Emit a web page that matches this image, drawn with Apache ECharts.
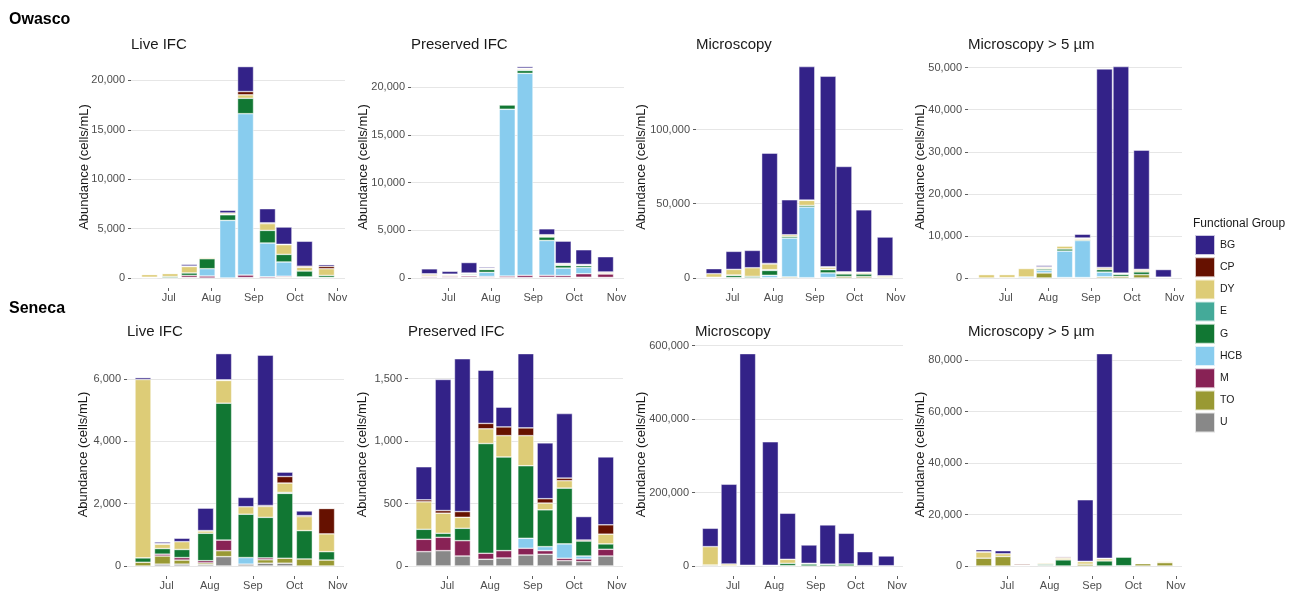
<!DOCTYPE html>
<html>
<head>
<meta charset="utf-8">
<script src="https://cdn.jsdelivr.net/npm/echarts@6/dist/echarts.min.js"></script>
<style>
  html, body { margin: 0; padding: 0; background: #fff; }
  #chart { width: 1302px; height: 592px; }
</style>
</head>
<body>
<div id="chart"></div>
<script>
// ---- Sampling dates -------------------------------------------------------
const owascoDates = ['2022-06-17','2022-07-02','2022-07-16','2022-07-29','2022-08-13','2022-08-26','2022-09-11','2022-09-23','2022-10-08','2022-10-24'];
const senecaDates = ['2022-06-14','2022-06-28','2022-07-12','2022-07-29','2022-08-11','2022-08-27','2022-09-10','2022-09-24','2022-10-08','2022-10-24'];

// ---- Functional groups ----------------------------------------------------
const groups = ['BG','CP','DY','E','G','HCB','M','TO','U'];
const groupColors = ['#332288','#661100','#DDCC77','#44AA99','#117733','#88CCEE','#882255','#999933','#888888'];
const monthNames = ['Jan','Feb','Mar','Apr','May','Jun','Jul','Aug','Sep','Oct','Nov','Dec'];

// ---- Owasco, Live IFC (cells/mL) -----------------------------------------
const owLive_BG  = [20, 50, 170, 50, 270, 2530, 1435, 1750, 2530, 170];
const owLive_CP  = [0, 0, 50, 0, 0, 330, 80, 40, 100, 240];
const owLive_DY  = [270, 300, 650, 120, 130, 350, 680, 980, 380, 680];
const owLive_E   = [0, 0, 0, 0, 50, 0, 0, 0, 0, 0];
const owLive_G   = [50, 120, 250, 1010, 570, 1560, 1280, 770, 600, 200];
const owLive_HCB = [0, 0, 0, 740, 5830, 16330, 3420, 1440, 0, 0];
const owLive_M   = [0, 0, 200, 200, 0, 250, 120, 100, 50, 0];
const owLive_TO  = [30, 30, 0, 0, 0, 0, 0, 80, 60, 60];
const owLive_U   = [0, 0, 60, 0, 0, 50, 0, 0, 0, 0];

// ---- Owasco, Preserved IFC -------------------------------------------------
const owPres_BG  = [520, 300, 1100, 120, 50, 170, 620, 2330, 1540, 1600];
const owPres_CP  = [80, 60, 40, 20, 30, 60, 50, 40, 20, 80];
const owPres_DY  = [150, 100, 40, 80, 60, 100, 130, 100, 60, 100];
const owPres_E   = [0, 0, 60, 50, 60, 80, 50, 60, 40, 0];
const owPres_G   = [60, 60, 100, 300, 450, 300, 370, 290, 200, 20];
const owPres_HCB = [0, 0, 60, 430, 17470, 21150, 3650, 780, 650, 0];
const owPres_M   = [100, 120, 140, 100, 150, 230, 200, 200, 370, 370];
const owPres_TO  = [0, 0, 0, 0, 0, 0, 0, 0, 0, 0];
const owPres_U   = [50, 60, 80, 60, 50, 50, 80, 60, 80, 60];

// ---- Owasco, Microscopy ---------------------------------------------------
const owMic_BG  = [3380, 12140, 11700, 74280, 23600, 89900, 128300, 71000, 42000, 26080];
const owMic_CP  = [0, 0, 0, 300, 0, 200, 300, 400, 400, 200];
const owMic_DY  = [2400, 3800, 5800, 3900, 1100, 3400, 1300, 700, 800, 1000];
const owMic_E   = [0, 200, 0, 500, 0, 0, 300, 200, 0, 0];
const owMic_G   = [300, 1500, 900, 3300, 1100, 1100, 2240, 1800, 1700, 0];
const owMic_HCB = [0, 0, 0, 1600, 26200, 47560, 3100, 0, 0, 0];
const owMic_M   = [0, 0, 0, 0, 0, 0, 0, 0, 0, 0];
const owMic_TO  = [200, 300, 200, 0, 700, 0, 300, 1000, 1000, 300];
const owMic_U   = [0, 0, 0, 200, 0, 200, 0, 0, 0, 0];

// ---- Owasco, Microscopy > 5 µm ---------------------------------------------
const owMic5_BG  = [0, 0, 0, 330, 0, 900, 47200, 49100, 28340, 1810];
const owMic5_CP  = [0, 0, 0, 100, 0, 100, 100, 150, 200, 150];
const owMic5_DY  = [800, 700, 2000, 300, 670, 300, 400, 100, 400, 0];
const owMic5_E   = [0, 0, 0, 100, 0, 0, 0, 0, 0, 0];
const owMic5_G   = [0, 100, 0, 350, 500, 200, 600, 500, 650, 0];
const owMic5_HCB = [0, 0, 250, 600, 6300, 8800, 1100, 0, 0, 0];
const owMic5_M   = [0, 0, 0, 0, 0, 0, 0, 0, 0, 50];
const owMic5_TO  = [0, 0, 0, 1200, 100, 100, 300, 400, 800, 0];
const owMic5_U   = [0, 0, 0, 0, 0, 0, 0, 0, 0, 0];

// ---- Seneca, Live IFC ------------------------------------------------------
const seLive_BG  = [60, 50, 110, 720, 840, 300, 4820, 140, 150, 20];
const seLive_CP  = [0, 20, 0, 10, 20, 0, 30, 210, 30, 815];
const seLive_DY  = [5720, 140, 250, 75, 730, 240, 350, 300, 450, 570];
const seLive_E   = [0, 0, 0, 0, 0, 0, 0, 30, 0, 0];
const seLive_G   = [140, 180, 260, 880, 4390, 1390, 1300, 2080, 910, 270];
const seLive_HCB = [0, 0, 0, 0, 0, 210, 0, 0, 0, 0];
const seLive_M   = [0, 60, 80, 70, 340, 0, 60, 0, 0, 0];
const seLive_TO  = [120, 260, 130, 50, 190, 0, 110, 160, 225, 190];
const seLive_U   = [0, 60, 60, 50, 300, 60, 90, 90, 0, 0];

// ---- Seneca, Preserved IFC -------------------------------------------------
const sePres_BG  = [265, 1050, 1224, 426, 158, 595, 447, 517, 188, 544];
const sePres_CP  = [16, 21, 46, 43, 70, 62, 35, 21, 8, 75];
const sePres_DY  = [220, 161, 88, 118, 171, 241, 54, 59, 0, 78];
const sePres_E   = [0, 0, 0, 0, 0, 0, 0, 0, 0, 0];
const sePres_G   = [80, 32, 99, 879, 750, 581, 295, 447, 120, 43];
const sePres_HCB = [0, 0, 0, 0, 0, 80, 32, 115, 24, 0];
const sePres_M   = [99, 107, 123, 48, 59, 54, 29, 19, 21, 54];
const sePres_TO  = [0, 0, 0, 0, 0, 0, 0, 0, 0, 0];
const sePres_U   = [115, 123, 80, 54, 64, 88, 94, 43, 35, 80];

// ---- Seneca, Microscopy ----------------------------------------------------
const seMic_BG  = [50000, 217000, 576000, 336000, 125400, 50000, 106800, 83650, 38000, 26600];
const seMic_CP  = [0, 0, 0, 0, 0, 0, 0, 0, 0, 0];
const seMic_DY  = [50000, 5000, 2000, 1000, 10900, 1800, 500, 0, 0, 0];
const seMic_E   = [0, 0, 0, 1000, 0, 0, 0, 0, 0, 0];
const seMic_G   = [0, 0, 0, 0, 6300, 5450, 4500, 5450, 1000, 700];
const seMic_HCB = [0, 0, 0, 0, 0, 0, 0, 0, 0, 0];
const seMic_M   = [0, 0, 0, 0, 0, 0, 0, 0, 0, 0];
const seMic_TO  = [2700, 500, 0, 0, 1000, 0, 0, 0, 0, 0];
const seMic_U   = [0, 0, 0, 0, 0, 0, 0, 0, 0, 0];

// ---- Seneca, Microscopy > 5 µm ---------------------------------------------
const seMic5_BG  = [800, 1190, 0, 0, 260, 23940, 79520, 0, 0, 0];
const seMic5_CP  = [100, 0, 400, 0, 400, 100, 200, 0, 0, 0];
const seMic5_DY  = [2400, 1050, 100, 400, 660, 1000, 800, 0, 160, 420];
const seMic5_E   = [0, 0, 0, 0, 0, 0, 0, 0, 0, 0];
const seMic5_G   = [0, 0, 0, 460, 2380, 0, 1980, 3330, 0, 0];
const seMic5_HCB = [0, 0, 0, 0, 0, 0, 0, 0, 0, 0];
const seMic5_M   = [0, 0, 0, 0, 0, 0, 0, 0, 0, 0];
const seMic5_TO  = [3040, 3700, 160, 200, 0, 700, 0, 100, 900, 1300];
const seMic5_U   = [0, 0, 0, 0, 0, 0, 0, 0, 0, 0];

// ---- Y tick labels per panel -----------------------------------------------
const ticksOwLive = [0, 5000, 10000, 15000, 20000];
const ticksOwPres = [0, 5000, 10000, 15000, 20000];
const ticksOwMic  = [0, 50000, 100000];
const ticksOwMic5 = [0, 10000, 20000, 30000, 40000, 50000];
const ticksSeLive = [0, 2000, 4000, 6000];
const ticksSePres = [0, 500, 1000, 1500];
const ticksSeMic  = [0, 200000, 400000, 600000];
const ticksSeMic5 = [0, 20000, 40000, 60000, 80000];

// x-axis month ticks (first of Jul..Nov)
const monthStarts = ['2022-07-01', '2022-08-01', '2022-09-01', '2022-10-01', '2022-11-01'];

const DAY = 86400000;
const toTime = s => { const [y, m, d] = s.split('-').map(Number); return Date.UTC(y, m - 1, d); };
const monthOf = v => monthNames[new Date(v + DAY / 2).getUTCMonth()];
const monthTicks = monthStarts.map(toTime);

// ---- Panel table --------------------------------------------------------------
const panels = [
  { title: 'Live IFC', dates: owascoDates, ticks: ticksOwLive,
    vals: [owLive_BG, owLive_CP, owLive_DY, owLive_E, owLive_G, owLive_HCB, owLive_M, owLive_TO, owLive_U] },
  { title: 'Preserved IFC', dates: owascoDates, ticks: ticksOwPres,
    vals: [owPres_BG, owPres_CP, owPres_DY, owPres_E, owPres_G, owPres_HCB, owPres_M, owPres_TO, owPres_U] },
  { title: 'Microscopy', dates: owascoDates, ticks: ticksOwMic,
    vals: [owMic_BG, owMic_CP, owMic_DY, owMic_E, owMic_G, owMic_HCB, owMic_M, owMic_TO, owMic_U] },
  { title: 'Microscopy > 5 µm', dates: owascoDates, ticks: ticksOwMic5,
    vals: [owMic5_BG, owMic5_CP, owMic5_DY, owMic5_E, owMic5_G, owMic5_HCB, owMic5_M, owMic5_TO, owMic5_U] },
  { title: 'Live IFC', dates: senecaDates, ticks: ticksSeLive,
    vals: [seLive_BG, seLive_CP, seLive_DY, seLive_E, seLive_G, seLive_HCB, seLive_M, seLive_TO, seLive_U] },
  { title: 'Preserved IFC', dates: senecaDates, ticks: ticksSePres,
    vals: [sePres_BG, sePres_CP, sePres_DY, sePres_E, sePres_G, sePres_HCB, sePres_M, sePres_TO, sePres_U] },
  { title: 'Microscopy', dates: senecaDates, ticks: ticksSeMic,
    vals: [seMic_BG, seMic_CP, seMic_DY, seMic_E, seMic_G, seMic_HCB, seMic_M, seMic_TO, seMic_U] },
  { title: 'Microscopy > 5 µm', dates: senecaDates, ticks: ticksSeMic5,
    vals: [seMic5_BG, seMic5_CP, seMic5_DY, seMic5_E, seMic5_G, seMic5_HCB, seMic5_M, seMic5_TO, seMic5_U] }
];

// Plot-area boxes: [left, right, top, zero line y]
const boxes = [
  [131, 345, 56, 278], [411, 624, 56, 278], [696, 903, 56, 278], [968, 1182, 56, 278],
  [127, 344, 343, 566], [408, 623, 343, 566], [695, 903, 343, 566], [968, 1182, 343, 566]
];
const xRange = [['2022-06-04', '2022-11-06'], ['2022-06-03', '2022-11-05']];
const nameGaps = [40.5, 41.5, 47.8, 41.5, 37.5, 39, 46.8, 41.5];

const FONT = "'Liberation Sans', Arial, Helvetica, sans-serif";
const fmt = v => Math.round(v).toLocaleString('en-US');

const grid = [], xAxis = [], yAxis = [], series = [];
const titles = [
  { text: 'Owasco', left: 9, top: 12, padding: 0, textStyle: { fontFamily: FONT, fontSize: 16, fontWeight: 'bold', color: '#000' } },
  { text: 'Seneca', left: 9, top: 301, padding: 0, textStyle: { fontFamily: FONT, fontSize: 16, fontWeight: 'bold', color: '#000' } },
  { text: 'Functional Group', left: 1193, top: 218, padding: 0, textStyle: { fontFamily: FONT, fontSize: 12, fontWeight: 'normal', color: '#1a1a1a' } }
];

panels.forEach((p, i) => {
  const [L, R, T, Z] = boxes[i];
  const row = i < 4 ? 0 : 1;
  const xMin = toTime(xRange[row][0]), xMax = toTime(xRange[row][1]);
  const nDays = Math.round((xMax - xMin) / DAY) + 1;
  const days = Array.from({ length: nDays }, (_, k) => xMin + k * DAY);

  grid.push({ left: L, top: T, width: R - L, height: Z - T, containLabel: false });
  titles.push({ text: p.title, left: L, top: row ? 324 : 37, padding: 0,
    textStyle: { fontFamily: FONT, fontSize: 15, fontWeight: 'normal', color: '#1a1a1a' } });

  // stacked totals set the axis top (5% headroom)
  const totals = p.dates.map((d, k) => p.vals.reduce((s, arr) => s + arr[k], 0));
  const yMax = Math.max(...totals) * 1.05;

  // one category per calendar day carries the bars
  xAxis.push({ type: 'category', gridIndex: i, data: days, boundaryGap: true, show: false });
  // companion axis (same span, in ms) draws month ticks and labels
  xAxis.push({
    type: 'value', gridIndex: i, min: xMin - DAY / 2, max: xMax + DAY / 2, position: 'bottom',
    offset: 10,
    axisLine: { show: false },
    axisTick: { show: true, length: 3, lineStyle: { color: '#333', width: 0.8 }, customValues: monthTicks },
    axisLabel: { customValues: monthTicks, margin: 4, fontFamily: FONT, fontSize: 11, color: '#4d4d4d',
      formatter: v => monthOf(v) },
    splitLine: { show: false }
  });
  yAxis.push({
    type: 'value', gridIndex: i, min: 0, max: yMax,
    name: 'Abundance (cells/mL)', nameLocation: 'middle', nameGap: nameGaps[i], nameMoveOverlap: false,
    nameTextStyle: { fontFamily: FONT, fontSize: 13, color: '#1a1a1a' },
    axisLine: { show: false },
    axisTick: { show: true, length: 3, lineStyle: { color: '#333', width: 0.8 }, customValues: p.ticks },
    axisLabel: { customValues: p.ticks, margin: 6, fontFamily: FONT, fontSize: 11, color: '#4d4d4d', formatter: fmt },
    splitLine: { show: true, lineStyle: { color: '#e3e3e3', width: 0.9 } }
  });

  // bottom of the stack first: U, TO, M, HCB, G, E, DY, CP, BG
  for (let g = groups.length - 1; g >= 0; g--) {
    const data = new Array(nDays).fill(null);
    p.dates.forEach((d, k) => {
      if (p.vals[g][k] > 0) data[Math.round((toTime(d) - xMin) / DAY)] = p.vals[g][k];
    });
    series.push({
      name: groups[g], type: 'bar', stack: 'panel' + i,
      xAxisIndex: 2 * i, yAxisIndex: i, barWidth: 16,
      itemStyle: { color: groupColors[g], borderColor: 'rgba(255,255,255,0.75)', borderWidth: 0.6 },
      emphasis: { disabled: true },
      data
    });
  }
});

const chart = echarts.init(document.getElementById('chart'), null, { renderer: 'canvas' });
chart.setOption({
  animation: false,
  backgroundColor: '#fff',
  textStyle: { fontFamily: FONT },
  title: titles,
  grid, xAxis, yAxis, series,
  legend: {
    data: groups, orient: 'vertical', left: 1194, top: 234, padding: 0,
    itemWidth: 20, itemHeight: 20, itemGap: 0.2, icon: 'rect', selectedMode: false,
    textStyle: { fontFamily: FONT, fontSize: 10.5, color: '#1a1a1a' }
  }
});
</script>
</body>
</html>
